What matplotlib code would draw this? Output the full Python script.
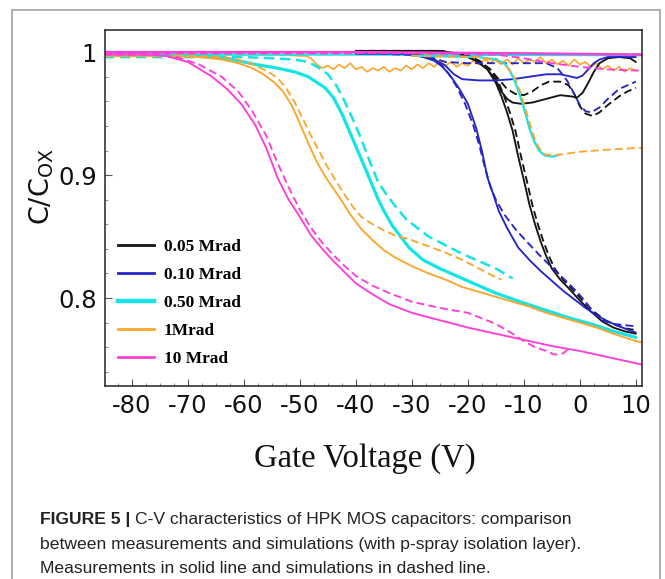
import matplotlib
matplotlib.use("Agg")
import matplotlib.pyplot as plt
from matplotlib.lines import Line2D
from matplotlib.patches import Rectangle
from matplotlib.ticker import FixedLocator, MultipleLocator, FuncFormatter

plt.rcParams["axes.unicode_minus"] = False

# ---------------- data: gate voltage (V) and normalised capacitance C/Cox ----------------
# 10 Mrad
V_10_MEAS = [-85, -78, -74, -70, -66, -63, -60.5, -58, -56, -54, -52, -50, -48, -46, -44, -42,
             -40, -37, -34, -30, -25, -20, -15, -10, -5, 0, 5, 10, 11]
C_10_MEAS = [0.998, 0.998, 0.997, 0.992, 0.981, 0.970, 0.958, 0.941, 0.922, 0.898, 0.880, 0.866,
             0.851, 0.840, 0.830, 0.821, 0.812, 0.803, 0.795, 0.788, 0.782, 0.776, 0.771, 0.766,
             0.761, 0.757, 0.752, 0.747, 0.746]
V_10_SIM = [-85, -76, -72, -68, -64, -61, -58.5, -56, -54, -52, -50, -48, -46, -44, -42, -40,
            -37, -34, -30, -25, -20, -15, -12, -10, -8, -6, -4.5, -3, -2.2]
C_10_SIM = [0.998, 0.998, 0.996, 0.990, 0.980, 0.968, 0.952, 0.932, 0.910, 0.890, 0.872, 0.857,
            0.845, 0.835, 0.826, 0.818, 0.810, 0.804, 0.797, 0.792, 0.788, 0.779, 0.771, 0.765,
            0.760, 0.757, 0.754, 0.755, 0.758]
V_10_MEAS_B = [-85, -40, -10, 11]
C_10_MEAS_B = [1.000, 1.000, 0.999, 0.998]
V_10_SIM_B = [-85, -30, -15, -10, -5, 0, 5, 10, 11]
C_10_SIM_B = [0.999, 0.999, 0.998, 0.995, 0.991, 0.988, 0.986, 0.985, 0.985]

# 1 Mrad
V_1_MEAS = [-85, -75, -68, -64, -61, -58.5, -56.5, -54.5, -53, -51.5, -50, -48.5, -47, -45.5,
            -44, -42.5, -41, -39, -37, -35, -33, -30, -27, -24, -21, -18, -15, -12, -9, -6, -3,
            0, 3, 6, 10, 11]
C_1_MEAS = [0.997, 0.997, 0.996, 0.994, 0.991, 0.987, 0.982, 0.975, 0.968, 0.957, 0.942, 0.926,
            0.911, 0.899, 0.889, 0.879, 0.868, 0.856, 0.847, 0.839, 0.833, 0.826, 0.820, 0.815,
            0.809, 0.805, 0.801, 0.797, 0.793, 0.788, 0.784, 0.780, 0.776, 0.771, 0.765, 0.764]
V_1_SIM = [-85, -70, -64, -61, -58.5, -56, -54, -52.5, -51, -49.5, -48, -46.5, -45, -43.5, -42,
           -40.5, -39, -37, -35, -33, -30, -27, -24, -21, -18, -15.5, -14]
C_1_SIM = [0.997, 0.997, 0.996, 0.994, 0.990, 0.985, 0.979, 0.971, 0.960, 0.946, 0.932, 0.919,
           0.906, 0.895, 0.884, 0.874, 0.866, 0.860, 0.855, 0.851, 0.847, 0.842, 0.837, 0.831,
           0.824, 0.818, 0.815]
V_1_MEAS_B = [-85, -70, -55, -50, -49, -48, -47, -46, -45, -44, -43, -42, -41, -40, -39, -38,
              -37, -36, -35, -34, -33, -32, -31, -30, -29, -28, -27, -26, -25, -24, -23, -22,
              -21, -20, -19, -18, -17, -16, -15, -14, -13, -12, -11, -10, -9, -8, -7, -6, -5,
              -4, -3, -2, -1, 0, 1, 2, 3, 4, 5, 6, 7, 8, 9, 10]
C_1_MEAS_B = [1.000, 0.998, 0.998, 0.997, 0.997, 0.995, 0.990, 0.987, 0.989, 0.986, 0.990,
              0.987, 0.991, 0.986, 0.988, 0.984, 0.987, 0.985, 0.988, 0.984, 0.987, 0.985,
              0.989, 0.986, 0.990, 0.987, 0.991, 0.988, 0.993, 0.989, 0.992, 0.988, 0.991,
              0.989, 0.993, 0.990, 0.994, 0.991, 0.995, 0.991, 0.994, 0.990, 0.995, 0.991,
              0.994, 0.992, 0.996, 0.991, 0.994, 0.990, 0.993, 0.989, 0.994, 0.990, 0.992,
              0.988, 0.991, 0.986, 0.989, 0.985, 0.988, 0.984, 0.987, 0.985]
V_1_SIM_B = [-30, -18, -15, -13, -11.5, -10.5, -9.8, -9, -8.2, -7.3, -6.3, -5, -3, 0, 3, 6, 10, 11]
C_1_SIM_B = [0.997, 0.996, 0.993, 0.988, 0.978, 0.966, 0.955, 0.943, 0.931, 0.922, 0.917, 0.916,
             0.917, 0.919, 0.920, 0.921, 0.922, 0.922]

# 0.50 Mrad
V_050_MEAS = [-85, -75, -67, -62, -58, -54, -51, -48.5, -45.5, -44, -42.5, -41, -39.5, -38, -37,
              -36, -35, -33.5, -32, -30.5, -28, -25, -20, -15, -10, -6, -2, 2, 6, 10]
C_050_MEAS = [0.998, 0.998, 0.997, 0.994, 0.990, 0.987, 0.984, 0.980, 0.971, 0.963, 0.950,
              0.934, 0.918, 0.902, 0.891, 0.880, 0.871, 0.859, 0.850, 0.841, 0.831, 0.824,
              0.814, 0.804, 0.796, 0.790, 0.784, 0.779, 0.773, 0.768]
V_050_SIM = [-85, -70, -60, -55, -51, -48.5, -46.5, -45, -43.5, -42, -40.5, -39, -37.5, -36,
             -34.5, -33, -31, -29, -27, -24, -21, -18, -15, -12]
C_050_SIM = [0.996, 0.996, 0.996, 0.995, 0.994, 0.992, 0.987, 0.982, 0.973, 0.960, 0.945, 0.929,
             0.911, 0.894, 0.884, 0.875, 0.864, 0.857, 0.850, 0.843, 0.836, 0.830, 0.824, 0.816]
V_050_MEAS_B = [-30, -18, -15, -13.5, -12.5, -11.5, -10.5, -9.7, -9, -8.2, -7.3, -6.3, -5, -4]
C_050_MEAS_B = [0.997, 0.996, 0.994, 0.991, 0.985, 0.975, 0.962, 0.950, 0.938, 0.928, 0.920,
                0.916, 0.915, 0.916]
V_050_MEAS_C = [-85, -40, 11]
C_050_MEAS_C = [0.998, 0.998, 0.9975]
V_050_SIM_B = [-85, 11]
C_050_SIM_B = [0.9985, 0.9985]

# 0.10 Mrad
V_010_MEAS = [-40, -33, -30, -28, -26, -24.5, -23, -21.5, -20, -18.5, -17.5, -16.5, -15.5, -14.5,
              -13, -11, -9, -7, -5, -3, -1, 1, 3, 5, 7, 10]
C_010_MEAS = [0.999, 0.999, 0.998, 0.996, 0.993, 0.988, 0.980, 0.970, 0.958, 0.938, 0.920,
              0.898, 0.885, 0.871, 0.857, 0.841, 0.831, 0.822, 0.814, 0.806, 0.799, 0.792,
              0.786, 0.781, 0.777, 0.772]
V_010_SIM = [-40, -30, -27, -25, -23.5, -22, -20.5, -19, -18, -17, -16, -15, -13.5, -11.5, -9.5,
             -7, -4.8, -2.5, -0.5, 1, 2.5, 4, 6, 8, 10]
C_010_SIM = [0.999, 0.998, 0.996, 0.991, 0.983, 0.972, 0.958, 0.940, 0.925, 0.907, 0.891, 0.880,
             0.868, 0.856, 0.846, 0.834, 0.824, 0.814, 0.805, 0.797, 0.788, 0.782, 0.779, 0.778,
             0.777]
V_010_MEAS_B = [-40, -32, -28, -26, -24, -22.5, -21, -18, -15, -12, -9, -6, -3.5, -1.5, -0.5,
                0.5, 1.5, 2.5, 3.5, 5, 7, 10]
C_010_MEAS_B = [0.999, 0.999, 0.997, 0.994, 0.989, 0.982, 0.978, 0.977, 0.977, 0.978, 0.980,
                0.982, 0.982, 0.980, 0.979, 0.981, 0.986, 0.991, 0.994, 0.996, 0.996, 0.996]
V_010_SIM_B = [-40, -30, -26, -24, -20, -15, -10, -6, -4, -2.3, -1, 0, 1, 2, 3.5, 5, 7, 10]
C_010_SIM_B = [0.999, 0.998, 0.995, 0.992, 0.991, 0.991, 0.991, 0.991, 0.987, 0.977, 0.966,
               0.957, 0.952, 0.951, 0.955, 0.962, 0.970, 0.976]

# 0.05 Mrad
V_005_MEAS = [-40, -25, -21, -18.5, -16.5, -15, -14, -13, -12, -11, -10, -9, -8, -7, -6, -5,
              -3.5, -2, 0, 2, 4, 6, 8, 10]
C_005_MEAS = [1.001, 1.001, 0.998, 0.993, 0.986, 0.975, 0.964, 0.951, 0.936, 0.915, 0.896,
              0.876, 0.860, 0.846, 0.834, 0.824, 0.815, 0.808, 0.798, 0.789, 0.781, 0.776,
              0.773, 0.771]
V_005_SIM = [-40, -25, -20.5, -18, -16, -14.5, -13.5, -12.5, -11.5, -10.5, -9.5, -8.5, -7.5,
             -6.5, -5.5, -4.5, -3, -1.5, 0.5, 2.5, 4.5, 6.5, 8.5, 10]
C_005_SIM = [1.001, 1.001, 0.998, 0.993, 0.986, 0.975, 0.964, 0.951, 0.936, 0.915, 0.896, 0.876,
             0.860, 0.846, 0.834, 0.824, 0.815, 0.808, 0.798, 0.789, 0.782, 0.778, 0.775, 0.774]
V_005_MEAS_B = [-40, -25, -21, -18.5, -16.5, -15, -14, -13, -12, -10.5, -8.5, -6, -3.5, -1.5,
                -0.5, 0.5, 1.5, 2.5, 3.5, 5, 7, 9, 10]
C_005_MEAS_B = [1.001, 1.001, 0.998, 0.993, 0.986, 0.977, 0.968, 0.962, 0.959, 0.958, 0.959,
                0.962, 0.965, 0.964, 0.963, 0.967, 0.975, 0.984, 0.991, 0.995, 0.996, 0.995,
                0.992]
V_005_SIM_B = [-40, -25, -20.5, -18, -16, -14.5, -13, -11.5, -10, -8.5, -7, -5.5, -3.5, -2, -1,
               0, 1, 2.3, 3.5, 5, 7, 8.5, 10]
C_005_SIM_B = [1.001, 1.001, 0.998, 0.993, 0.986, 0.978, 0.970, 0.966, 0.965, 0.968, 0.973,
               0.976, 0.976, 0.973, 0.966, 0.956, 0.950, 0.948, 0.951, 0.957, 0.964, 0.968,
               0.971]

LEGEND_LABELS = ["0.05 Mrad", "0.10 Mrad", "0.50 Mrad", "1Mrad", "10 Mrad"]
X_TICKS = [-80, -70, -60, -50, -40, -30, -20, -10, 0, 10]
Y_TICKS = [0.8, 0.9, 1.0]

# ---------------- styling ----------------
BLACK = "#141414"
BLUE = "#2626c4"
CYAN = "#14e4e4"
ORANGE = "#fba52e"
MAGENTA = "#ff3ed8"
LW = 1.35
LW_CYAN = 2.3
DASH = (0, (4.2, 2.2))

fig = plt.figure(figsize=(6.65, 5.79), dpi=100)
fig.patch.set_facecolor("white")

# grey frame around the figure panel
fig.patches.append(Rectangle((12 / 665, -0.05), 648 / 665, 1.05 - 10 / 579,
                             transform=fig.transFigure, fill=False,
                             edgecolor="#a8a8a8", linewidth=1.3))

ax = fig.add_axes([105 / 665, 1 - 386 / 579, 537 / 665, 356 / 579])


def draw(v, c, color, dashed=False, lw=LW, z=2):
    ax.plot(v, c, color=color, lw=lw, linestyle=DASH if dashed else "-",
            solid_capstyle="round", zorder=z)


# simulations (dashed) and measurements (solid)
draw(V_1_MEAS_B, C_1_MEAS_B, ORANGE, lw=1.2)
draw(V_050_SIM_B, C_050_SIM_B, CYAN, dashed=True)
draw(V_050_MEAS_C, C_050_MEAS_C, CYAN, lw=1.6)

draw(V_005_MEAS, C_005_MEAS, BLACK)
draw(V_005_SIM, C_005_SIM, BLACK, dashed=True)
draw(V_005_MEAS_B, C_005_MEAS_B, BLACK)
draw(V_005_SIM_B, C_005_SIM_B, BLACK, dashed=True)

draw(V_010_MEAS, C_010_MEAS, BLUE)
draw(V_010_SIM, C_010_SIM, BLUE, dashed=True)
draw(V_010_MEAS_B, C_010_MEAS_B, BLUE)
draw(V_010_SIM_B, C_010_SIM_B, BLUE, dashed=True)

draw(V_050_MEAS_B, C_050_MEAS_B, CYAN, lw=1.6)
draw(V_1_SIM_B, C_1_SIM_B, ORANGE, dashed=True)

draw(V_050_MEAS, C_050_MEAS, CYAN, lw=LW_CYAN)
draw(V_050_SIM, C_050_SIM, CYAN, dashed=True, lw=1.8)

draw(V_1_MEAS, C_1_MEAS, ORANGE)
draw(V_1_SIM, C_1_SIM, ORANGE, dashed=True)

draw(V_10_MEAS, C_10_MEAS, MAGENTA)
draw(V_10_SIM, C_10_SIM, MAGENTA, dashed=True)
draw(V_10_SIM_B, C_10_SIM_B, MAGENTA, dashed=True)
draw(V_10_MEAS_B, C_10_MEAS_B, MAGENTA, lw=1.8)

ax.set_xlim(-84.8, 11.1)
ax.set_ylim(0.7285, 1.018)

for s in ax.spines.values():
    s.set_color("#222222")
    s.set_linewidth(1.1)

ax.xaxis.set_major_locator(FixedLocator(X_TICKS))
ax.xaxis.set_minor_locator(MultipleLocator(2.5))
ax.yaxis.set_major_locator(FixedLocator(Y_TICKS))
ax.yaxis.set_minor_locator(MultipleLocator(0.02))
ax.yaxis.set_major_formatter(FuncFormatter(lambda v, p: "%g" % round(v, 2)))
ax.tick_params(which="major", direction="in", length=5, width=0.8, color="#555555",
               labelsize=17.5, pad=6, labelcolor="#111111")
ax.tick_params(which="minor", direction="in", length=2.5, width=0.6, color="#777777")
for lab in ax.get_xticklabels() + ax.get_yticklabels():
    lab.set_family("DejaVu Sans")

ax.set_xlabel("Gate Voltage (V)", family="Liberation Serif", fontsize=23.5, color="#111111")
ax.xaxis.set_label_coords(0.484, -0.16)
ax.set_ylabel(r"C/C$_{\mathrm{OX}}$", family="DejaVu Sans", fontsize=19.5, color="#111111")
ax.yaxis.set_label_coords(-0.092, 0.56)

handles = [Line2D([], [], color=BLACK, lw=2.0),
           Line2D([], [], color=BLUE, lw=2.0),
           Line2D([], [], color=CYAN, lw=3.2),
           Line2D([], [], color=ORANGE, lw=2.0),
           Line2D([], [], color=MAGENTA, lw=2.0)]
ax.legend(handles, LEGEND_LABELS, loc="upper left", bbox_to_anchor=(0.025, 0.412),
          frameon=False, prop={"family": "Liberation Serif", "size": 12.5, "weight": "bold"},
          handlelength=2.05, handletextpad=0.55, labelspacing=0.67, borderpad=0,
          borderaxespad=0)

# caption
cap_kw = dict(fontsize=12.6, va="baseline", color="#222222")
fam = ["Liberation Sans Narrow", "Liberation Sans"]
x0 = 40 / 665
t = fig.text(x0, 1 - 524 / 579, "FIGURE 5 |", family=fam, weight="bold", **cap_kw)
fig.canvas.draw()
bb = t.get_window_extent(renderer=fig.canvas.get_renderer())
x1 = (bb.x1 + 5) / fig.bbox.width
fig.text(x1, 1 - 524 / 579, "C-V characteristics of HPK MOS capacitors: comparison",
         family=fam, **cap_kw)
fig.text(x0, 1 - 549 / 579,
         "between measurements and simulations (with p-spray isolation layer).",
         family=fam, **cap_kw)
fig.text(x0, 1 - 573 / 579, "Measurements in solid line and simulations in dashed line.",
         family=fam, **cap_kw)

fig.savefig("out.png", dpi=100)
